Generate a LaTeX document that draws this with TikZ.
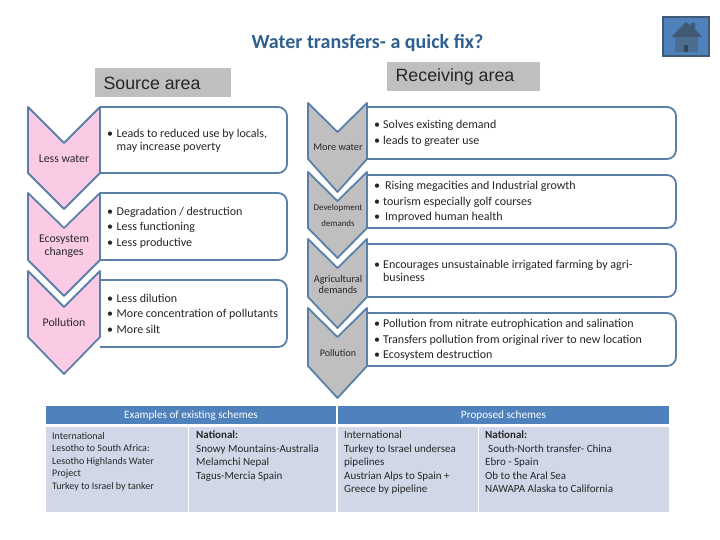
\documentclass[tikz,border=0pt]{standalone}
\usepackage{fontspec}
\setmainfont{Carlito}
\newfontfamily\headfont{Liberation Sans}
\definecolor{lineblue}{HTML}{5B80A8}
\definecolor{pinkfill}{HTML}{FBCBE6}
\definecolor{greyfill}{HTML}{BFBFBF}
\definecolor{headblue}{HTML}{4F81BD}
\definecolor{cellblue}{HTML}{D0D8E8}
\definecolor{titleblue}{HTML}{2F6090}
\tikzset{
  chevline/.style={draw=lineblue,line width=1.8pt,line join=round},
  boxline/.style={draw=lineblue,line width=1.8pt,fill=white,rounded corners=9pt},
  bodytext/.style={anchor=west,align=left,font=\fontsize{12}{15.4}\selectfont,text=black!85,inner sep=0pt},
  celltext/.style={anchor=north west,align=left,font=\fontsize{11}{13.4}\selectfont,text=black!85,inner sep=0pt},
  chevtext/.style={align=center,font=\fontsize{11.8}{13}\selectfont,text=black!85,inner sep=0pt},
  headtext/.style={font=\fontsize{11.2}{12}\selectfont,text=white,inner sep=0pt},
  areatext/.style={font=\headfont\fontsize{17.8}{20}\selectfont,text=black!85,inner sep=0pt}
}
\newcommand{\chevron}[7]{% x1, x2, top, notch, shoulder, tip, fill
  \draw[chevline,fill=#7] (#1,#3) -- ({(#1+#2)/2},#4) -- (#2,#3) -- (#2,#5) -- ({(#1+#2)/2},#6) -- (#1,#5) -- cycle;
}
\newcommand{\textbox}[4]{% x1, x2, top, bottom
  \draw[boxline] (#1,#3) -- (#2,#3) -- (#2,#4) -- (#1,#4);
}
\begin{document}
\begin{tikzpicture}[x=1pt,y=-1pt]
\useasboundingbox (0,0) rectangle (720,540);

\node[font=\fontsize{20}{22}\selectfont\bfseries,text=titleblue,inner sep=0pt] (title) at (367.5,43.5) {Water transfers- a quick fix?};

% area labels
\fill[greyfill] (95,68) rectangle (231,97);
\node[areatext] (source) at (152,83) {Source area};
\fill[greyfill] (387,62) rectangle (540,91);
\node[areatext] (receiving) at (455,77) {Receiving area};

% home button
\draw[fill=headblue,draw=lineblue!70!black,line width=1.5pt] (663,17) rectangle (709,56);
\fill[lineblue!70!black] (671,37) -- (686,22) -- (691,26) -- (691,23) -- (695,23) -- (695,29) -- (702,37) -- cycle;
\fill[lineblue!85!black] (675,37) rectangle (698,52);
\fill[lineblue!55!black] (684,45) rectangle (688,52);

% left column
\textbox{100}{287}{107}{173}
\textbox{100}{287}{193}{260}
\textbox{100}{287}{280}{347}
\chevron{28}{100}{271}{307}{337}{374}{pinkfill}
\chevron{28}{100}{193}{228}{260}{296}{pinkfill}
\chevron{28}{100}{107}{143}{173}{209}{pinkfill}
\node[chevtext] (lesswater) at (64,159) {Less water};
\node[chevtext] (ecosystem) at (64,246) {Ecosystem\\changes};
\node[chevtext] (pollutionl) at (64,322) {Pollution};

\node[bodytext,font=\fontsize{12}{13}\selectfont] (leads) at (107,140.5) {•\hspace{3.5pt}Leads to reduced use by locals,\\\phantom{•}\hspace{3.5pt}may increase poverty};
\node[bodytext] (degrade) at (107,227.5) {•\hspace{3.5pt}Degradation / destruction\\•\hspace{3.5pt}Less functioning\\•\hspace{3.5pt}Less productive};
\node[bodytext] (dilution) at (107,313.5) {•\hspace{3.5pt}Less dilution\\•\hspace{3.5pt}More concentration of pollutants\\•\hspace{3.5pt}More silt};

% right column
\textbox{367}{676}{107}{159}
\textbox{367}{676}{175}{228}
\textbox{367}{676}{244}{297}
\textbox{367}{676}{313}{366}
\chevron{308}{367}{308}{337}{366}{398}{greyfill}
\chevron{308}{367}{239}{268}{297}{328}{greyfill}
\chevron{308}{367}{172}{201}{228}{258}{greyfill}
\chevron{308}{367}{103}{132}{159}{192}{greyfill}
\node[chevtext,font=\fontsize{10.3}{12}\selectfont] (morewater) at (338,147) {More water};
\node[chevtext,font=\fontsize{8.9}{16}\selectfont] (development) at (338,215) {Development\\demands};
\node[chevtext,font=\fontsize{10.3}{11}\selectfont] (agri) at (338,284) {Agricultural\\demands};
\node[chevtext,font=\fontsize{10}{12}\selectfont] (pollutionr) at (338,353) {Pollution};

\node[bodytext] (solves) at (374,133.5) {•\hspace{3pt}Solves existing demand\\•\hspace{3pt}leads to greater use};
\node[bodytext] (rising) at (374,202) {•\hspace{5pt}Rising megacities and Industrial growth\\•\hspace{3pt}tourism especially golf courses\\•\hspace{5pt}Improved human health};
\node[bodytext,font=\fontsize{12}{13.5}\selectfont] (encourages) at (374,271) {•\hspace{3pt}Encourages unsustainable irrigated farming by agri-\\\phantom{•}\hspace{3pt}business};
\node[bodytext] (nitrate) at (374,340) {•\hspace{3pt}Pollution from nitrate eutrophication and salination\\•\hspace{3pt}Transfers pollution from original river to new location\\•\hspace{3pt}Ecosystem destruction};

% table of schemes
\fill[headblue] (46,406) rectangle (336,424);
\fill[headblue] (338,406) rectangle (669,424);
\fill[cellblue] (46,427) rectangle (187.5,512);
\fill[cellblue] (189,427) rectangle (336,512);
\fill[cellblue] (338,427) rectangle (477.5,512);
\fill[cellblue] (479,427) rectangle (669,512);
\node[headtext] (existing) at (191,416) {Examples of existing schemes};
\node[headtext] (proposed) at (503.5,416) {Proposed schemes};

\node[celltext,font=\fontsize{10}{12.5}\selectfont] (cellone) at (52,432) {International\\Lesotho to South Africa:\\Lesotho Highlands Water\\Project\\Turkey to Israel by tanker};
\node[celltext] (celltwo) at (196,431) {\textbf{National:}\\Snowy Mountains-Australia\\Melamchi Nepal\\Tagus-Mercia Spain};
\node[celltext] (cellthree) at (344,431) {International\\Turkey to Israel undersea\\pipelines\\Austrian Alps to Spain +\\Greece by pipeline};
\node[celltext] (cellfour) at (485,431) {\textbf{National:}\\\hspace{3pt}South-North transfer- China\\Ebro - Spain\\Ob to the Aral Sea\\NAWAPA Alaska to California};
\end{tikzpicture}
\end{document}
